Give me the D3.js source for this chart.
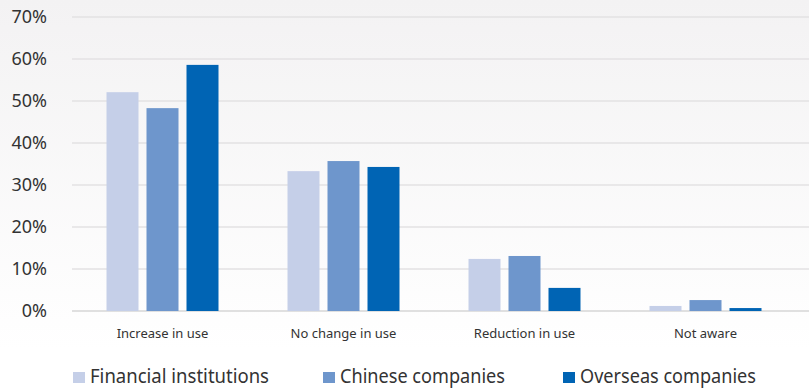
<!DOCTYPE html>
<html>
<head>
<meta charset="utf-8">
<script src="https://cdn.jsdelivr.net/npm/d3@7"></script>
<style>
  body { margin: 0; background: #fff; }
  svg { display: block; }
  text { font-family: "Noto Sans", sans-serif; fill: #333; }
</style>
</head>
<body>
<div id="chart"></div>
<script>
const categories = ["Increase in use", "No change in use", "Reduction in use", "Not aware"];
const series = ["Financial institutions", "Chinese companies", "Overseas companies"];
const financial = [52.1, 33.3, 12.4, 1.2];
const chinese = [48.3, 35.7, 13.1, 2.6];
const overseas = [58.6, 34.3, 5.5, 0.7];
const yTicks = [0, 10, 20, 30, 40, 50, 60, 70];
const colors = ["#c5cfe8", "#6e96cc", "#0064b4"];

const width = 809, height = 389;
const margin = {left: 72, right: 13, top: 17, bottom: 78};
const innerW = width - margin.left - margin.right;
const innerH = height - margin.top - margin.bottom;

const values = [financial, chinese, overseas];

const svg = d3.select("#chart")
    .append("svg")
    .attr("width", width)
    .attr("height", height);

// background fade
const grad = svg.append("defs").append("linearGradient")
    .attr("id", "bg").attr("x1", 0).attr("y1", 0).attr("x2", 0).attr("y2", 1);
grad.append("stop").attr("offset", "0%").attr("stop-color", "#f3f2f3");
grad.append("stop").attr("offset", "90%").attr("stop-color", "#ffffff");
svg.append("rect").attr("width", width).attr("height", height).attr("fill", "url(#bg)");

var xScale = d3.scaleBand()
    .domain(categories)
    .range([0, innerW])
    .padding(0);

var xSub = d3.scaleBand()
    .domain(series)
    .range([0, 112])
    .paddingInner(0.2);

var yScale = d3.scaleLinear()
    .domain([0, 70])
    .range([innerH, 0]);

var g = svg.append("g")
    .attr("transform", "translate(" + margin.left + "," + margin.top + ")");

// gridlines
g.append("g")
    .selectAll("line")
    .data(yTicks)
    .join("line")
    .attr("x1", 0)
    .attr("x2", width - margin.left)
    .attr("y1", d => yScale(d))
    .attr("y2", d => yScale(d))
    .attr("stroke", d => d === 0 ? "#d6d6d6" : "#e3e2e3")
    .attr("stroke-width", 1.5);

// y labels
g.append("g")
    .selectAll("text")
    .data(yTicks)
    .join("text")
    .attr("x", -25)
    .attr("y", d => yScale(d))
    .attr("dy", "0.35em")
    .attr("text-anchor", "end")
    .style("font-size", "18px")
    .text(d => d + "%");

// bars
series.forEach((s, si) => {
    g.append("g")
        .selectAll("rect")
        .data(values[si])
        .join("rect")
        .attr("x", (d, i) => xScale(categories[i]) + xScale.bandwidth() / 2 - 56 + xSub(s))
        .attr("y", d => yScale(d))
        .attr("width", xSub.bandwidth())
        .attr("height", d => innerH - yScale(d))
        .attr("fill", colors[si]);
});

// category labels
g.append("g")
    .selectAll("text")
    .data(categories)
    .join("text")
    .attr("x", d => xScale(d) + xScale.bandwidth() / 2)
    .attr("y", innerH + 22)
    .attr("dy", "0.35em")
    .attr("text-anchor", "middle")
    .style("font-size", "13px")
    .text(d => d);

// legend (text squeezed a bit, the original font is narrower)
const legendX = [73, 323, 563];
const legendW = [179, 165, 176];
const leg = svg.append("g").attr("transform", "translate(0,383)");
series.forEach((s, si) => {
    leg.append("rect")
        .attr("x", legendX[si])
        .attr("y", -11)
        .attr("width", 12)
        .attr("height", 11)
        .attr("fill", colors[si]);
    leg.append("text")
        .attr("x", legendX[si] + 17)
        .attr("y", 0)
        .attr("textLength", legendW[si])
        .attr("lengthAdjust", "spacingAndGlyphs")
        .style("font-size", "19px")
        .text(s);
});
</script>
</body>
</html>
